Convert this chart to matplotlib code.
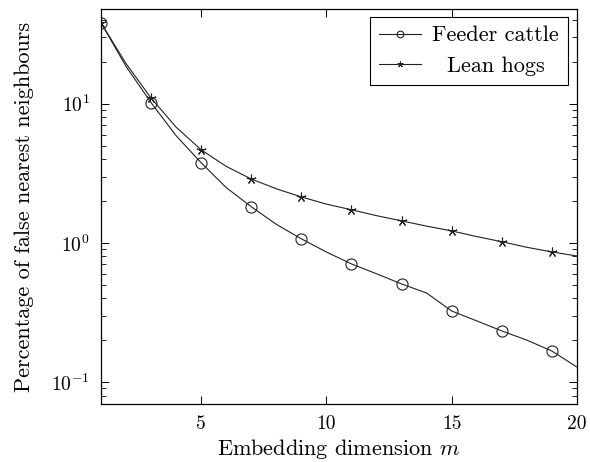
import numpy as np
from matplotlib import pyplot as plt
from matplotlib.ticker import LogLocator, NullFormatter

# embedding dimension m
dims = np.arange(1, 21)

feeder_cattle = [38.3, 18.6, 10.2, 5.9, 3.77, 2.5, 1.82, 1.36, 1.07, 0.86,
                 0.706, 0.60, 0.507, 0.436, 0.324, 0.275, 0.233, 0.20, 0.167, 0.128]
lean_hogs = [38.3, 19.5, 11.0, 6.8, 4.67, 3.55, 2.88, 2.45, 2.14, 1.9,
             1.73, 1.57, 1.44, 1.32, 1.22, 1.11, 1.02, 0.93, 0.861, 0.805]

x_ticks = [5, 10, 15, 20]

plt.rcParams['font.family'] = 'serif'
plt.rcParams['font.serif'] = ['cmr10', 'DejaVu Serif']
plt.rcParams['mathtext.fontset'] = 'cm'
plt.rcParams['axes.formatter.use_mathtext'] = True
plt.rcParams['font.size'] = 14

fig = plt.figure(figsize=(5.9, 4.62), dpi=100)
ax = fig.add_axes([0.171, 0.1255, 0.807, 0.855])

line_kw = dict(color='#222222', linewidth=0.8, markevery=slice(0, None, 2))
ax.plot(dims, feeder_cattle, marker='o', markersize=8, markerfacecolor='none',
        markeredgecolor='#222222', markeredgewidth=0.8, label='Feeder cattle', **line_kw)
ax.plot(dims, lean_hogs, marker=(5, 2, 0), markersize=7,
        markeredgecolor='#222222', markeredgewidth=0.8, label='Lean hogs', **line_kw)

ax.set_yscale('log')
ax.set_xlim(1, 20)
ax.set_ylim(0.0695, 48)
ax.set_xticks(x_ticks)
ax.set_xticklabels([str(t) for t in x_ticks])
ax.minorticks_off()
ax.yaxis.set_minor_locator(LogLocator(base=10, subs=np.arange(2, 10)))
ax.yaxis.set_minor_formatter(NullFormatter())

ax.tick_params(which='both', direction='in', top=True, right=True, labelsize=14)
ax.tick_params(which='major', length=6, width=0.7, pad=8)
ax.tick_params(which='minor', length=3.5, width=0.6)
for s in ax.spines.values():
    s.set_linewidth(0.9)

ax.set_xlabel('Embedding dimension $m$', fontsize=16, labelpad=3)
ax.set_ylabel('Percentage of false nearest neighbours', fontsize=16, labelpad=12)

leg = ax.legend(loc='upper right', bbox_to_anchor=(0.981, 0.98), fontsize=16,
                fancybox=False, framealpha=1, edgecolor='black', markerscale=0.6,
                handlelength=1.9, handletextpad=0.5, borderpad=0.4, labelspacing=0.5,
                borderaxespad=0)
leg.get_frame().set_linewidth(0.8)

# centre the legend labels like pgfplots does
fig.canvas.draw()
renderer = fig.canvas.get_renderer()
texts = leg.get_texts()
widths = [t.get_window_extent(renderer).width for t in texts]
for t, w in zip(texts, widths):
    t.set_x((max(widths) - w) / 2)

fig.savefig('out.png', dpi=100)
